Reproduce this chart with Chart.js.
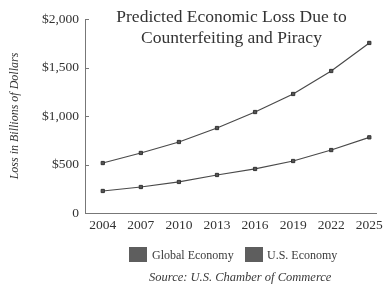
<!DOCTYPE html>
<html>
<head>
<meta charset="utf-8">
<script src="https://cdn.jsdelivr.net/npm/chart.js@4"></script>
<style>
  html, body { margin: 0; padding: 0; background: #fff; }
  #wrap { position: relative; width: 387px; height: 284px; font-family: "Liberation Serif", "DejaVu Serif", serif; color: #3a3a3a; }
  #chart { position: absolute; left: 0; top: 0; }
  #title { position: absolute; left: 91px; width: 281px; top: 6px; text-align: center; font-size: 17.5px; line-height: 21px; color: #333; }
  .box { position: absolute; width: 18px; height: 15px; background: #5e5e5e; top: 247px; }
  .lab { position: absolute; top: 247px; font-size: 12px; line-height: 16px; white-space: nowrap; }
  #source { position: absolute; left: 149px; top: 269px; font-size: 12.5px; font-style: italic; line-height: 16px; white-space: nowrap; }
</style>
</head>
<body>
<div id="wrap">
  <canvas id="chart" width="387" height="284"></canvas>
  <div id="title">Predicted Economic Loss Due to<br>Counterfeiting and Piracy</div>
  <div class="box" style="left:129px"></div>
  <div class="lab" style="left:152px">Global Economy</div>
  <div class="box" style="left:245px"></div>
  <div class="lab" style="left:267px">U.S. Economy</div>
  <div id="source">Source: U.S. Chamber of Commerce</div>
</div>
<script>
    var years = [2004, 2007, 2010, 2013, 2016, 2019, 2022, 2025];
    var globalLoss = [515, 619, 732, 876, 1041, 1227, 1464, 1753];
    var usLoss = [227, 268, 320, 392, 454, 536, 649, 780];
    var yTicks = [0, 500, 1000, 1500, 2000];
    var yTickLabels = ['0', '$500', '$1,000', '$1,500', '$2,000'];

    var toPoints = function(values) {
        return values.map(function (v, i) { return {x: years[i], y: v}; });
    };

    // short tick marks pointing into the plot, like the printed chart
    var innerTicks = {
        id: 'innerTicks',
        afterDraw: function (chart) {
            var ctx = chart.ctx;
            var y = chart.scales.y;
            ctx.save();
            ctx.strokeStyle = '#777';
            ctx.lineWidth = 1;
            yTicks.forEach(function (t) {
                var py = Math.round(y.getPixelForValue(t)) + 0.5;
                ctx.beginPath();
                ctx.moveTo(y.right, py);
                ctx.lineTo(y.right + 4, py);
                ctx.stroke();
            });
            ctx.restore();
        }
    };

    var lineStyle = {
        borderColor: '#4a4a4a',
        borderWidth: 1.2,
        pointStyle: 'rect',
        pointRadius: 2.3,
        pointBackgroundColor: '#555',
        pointBorderColor: '#333',
        pointBorderWidth: 1,
        tension: 0,
        fill: false
    };

    new Chart(document.getElementById('chart'), {
        type: 'line',
        data: {
            datasets: [
                Object.assign({label: 'Global Economy', data: toPoints(globalLoss)}, lineStyle),
                Object.assign({label: 'U.S. Economy', data: toPoints(usLoss)}, lineStyle)
            ]
        },
        options: {
            responsive: false,
            animation: false,
            layout: {padding: {top: 19, right: 9, left: 0, bottom: 0}},
            plugins: {legend: {display: false}, tooltip: {enabled: false}},
            scales: {
                x: {
                    type: 'linear',
                    min: 2002.6,
                    max: 2025.55,
                    afterBuildTicks: function (scale) {
                        scale.ticks = years.map(function (v) { return {value: v}; });
                    },
                    afterFit: function (scale) { scale.height = 71; },
                    grid: {display: false, drawTicks: false},
                    border: {display: true, color: '#777', width: 1},
                    ticks: {
                        padding: 4,
                        color: '#333',
                        font: {family: '"Liberation Serif", serif', size: 13.5},
                        callback: function (v) { return String(v); }
                    }
                },
                y: {
                    min: 0,
                    max: 2000,
                    afterBuildTicks: function (scale) {
                        scale.ticks = yTicks.map(function (v) { return {value: v}; });
                    },
                    afterFit: function (scale) { scale.width = 85; },
                    grid: {display: false, drawTicks: false},
                    border: {display: true, color: '#777', width: 1},
                    ticks: {
                        padding: 6,
                        color: '#333',
                        font: {family: '"Liberation Serif", serif', size: 13.5},
                        callback: function (v) { return yTickLabels[yTicks.indexOf(v)]; }
                    },
                    title: {
                        display: true,
                        text: 'Loss in Billions of Dollars',
                        color: '#333',
                        padding: {top: 8, bottom: 0},
                        font: {family: '"Liberation Serif", serif', size: 12, style: 'italic'}
                    }
                }
            }
        },
        plugins: [innerTicks]
    });
</script>
</body>
</html>
